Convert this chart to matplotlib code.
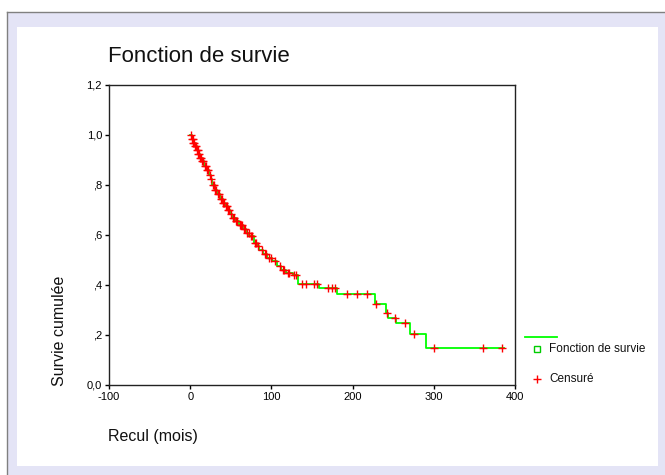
import matplotlib
matplotlib.use("Agg")
import matplotlib.pyplot as plt
from matplotlib.lines import Line2D
from matplotlib.patches import Rectangle
from matplotlib.ticker import FixedLocator, FixedFormatter
import numpy as np

plt.rcParams["font.family"] = ["Liberation Sans", "DejaVu Sans"]
plt.rcParams["axes.unicode_minus"] = False

# Kaplan-Meier steps (time in months, cumulative survival after the event)
step_times = [0, 2, 4, 6, 8, 10, 12, 14, 17, 20, 23, 25, 27, 30, 33, 37, 40, 43,
              46, 49, 52, 56, 60, 65, 69, 73, 78, 82, 85, 90, 95, 101, 107, 112,
              118, 126, 133, 159, 181, 228, 241, 244, 253, 271, 290]
step_surv = [1.0, 0.985, 0.97, 0.955, 0.94, 0.925, 0.91, 0.895, 0.875, 0.86, 0.84,
             0.825, 0.80, 0.78, 0.765, 0.745, 0.73, 0.715, 0.70, 0.685, 0.67, 0.655,
             0.64, 0.625, 0.61, 0.595, 0.57, 0.555, 0.54, 0.525, 0.51, 0.495, 0.475,
             0.46, 0.45, 0.44, 0.405, 0.39, 0.365, 0.325, 0.29, 0.27, 0.248, 0.203,
             0.15]
censor_times = [1, 2, 3, 4, 5, 6, 7, 8, 9, 10, 11, 12, 13, 15, 16, 18, 19, 21, 22,
                24, 26, 28, 29, 31, 32, 34, 35, 38, 39, 41, 42, 44, 45, 47, 48, 50,
                53, 54, 57, 58, 61, 62, 64, 66, 67, 70, 72, 75, 76, 80, 81, 84, 88,
                92, 93, 97, 99, 104, 110, 114, 116, 120, 122, 128, 130, 138, 142,
                152, 156, 170, 175, 178, 193, 205, 218, 229, 242, 252, 265, 276,
                300, 361, 384]

x_ticks = [-100, 0, 100, 200, 300, 400]
y_ticks = [0.0, 0.2, 0.4, 0.6, 0.8, 1.0, 1.2]
y_labels = ["0,0", ",2", ",4", ",6", ",8", "1,0", "1,2"]

W, H = 665, 475
fig = plt.figure(figsize=(W / 100, H / 100), dpi=100, facecolor="white")

# SPSS-like viewer frame
fig.add_artist(Rectangle((7 / W, 0), 1, 1 - 12 / H, transform=fig.transFigure,
                         facecolor="#E4E4F6", edgecolor="none", zorder=-3))
fig.add_artist(Line2D([7 / W, 7 / W], [0, 1 - 12 / H], transform=fig.transFigure,
                      color="#808080", lw=1, zorder=-2))
fig.add_artist(Line2D([7 / W, 1], [1 - 12 / H, 1 - 12 / H], transform=fig.transFigure,
                      color="#808080", lw=1, zorder=-2))
fig.add_artist(Rectangle((17 / W, 1 - 466 / H), (658 - 17) / W, (466 - 27) / H,
                         transform=fig.transFigure, facecolor="white",
                         edgecolor="none", zorder=-1))

ax = fig.add_axes([109 / W, 1 - 385 / H, (515 - 109) / W, (385 - 85) / H])
ax.set_facecolor("white")

t = np.array(step_times)
s = np.array(step_surv)
ax.step(np.append(t, censor_times[-1] + 2), np.append(s, s[-1]), where="post",
        color="#00FF00", lw=1.3, zorder=2)

ct = np.array(censor_times)
cy = s[np.searchsorted(t, ct, side="right") - 1]
ax.plot(ct, cy, linestyle="none", marker="+", color="#FF0000", ms=6, mew=1.0,
        zorder=3)

ax.set_xlim(-100, 400)
ax.set_ylim(0, 1.2)
ax.xaxis.set_major_locator(FixedLocator(x_ticks))
ax.yaxis.set_major_locator(FixedLocator(y_ticks))
ax.yaxis.set_major_formatter(FixedFormatter(y_labels))
ax.tick_params(direction="out", length=3, width=1, labelsize=8, pad=2,
               colors="black")
for sp in ax.spines.values():
    sp.set_linewidth(1.0)
    sp.set_color("#222222")

fig.text(108 / W, 1 - 57 / H, "Fonction de survie", fontsize=16, ha="left",
         va="center", color="#111111")
fig.text(108 / W, 1 - 437 / H, "Recul (mois)", fontsize=11.5, ha="left",
         va="center", color="#111111")
fig.text(60 / W, 1 - 331 / H, "Survie cumulée", fontsize=11.5, rotation=90,
         ha="center", va="center", color="#111111")

# legend drawn at its place beside the plot
fig.add_artist(Line2D([525 / W, 557 / W], [1 - 337 / H, 1 - 337 / H],
                      transform=fig.transFigure, color="#00FF00", lw=1.3))
fig.add_artist(Line2D([537 / W], [1 - 349 / H], transform=fig.transFigure,
                      marker="s", ms=4, mfc="none", mec="#00CC00", mew=1,
                      linestyle="none"))
fig.text(549 / W, 1 - 349 / H, "Fonction de survie", fontsize=8.5, ha="left",
         va="center", color="#111111")
fig.add_artist(Line2D([537 / W], [1 - 379 / H], transform=fig.transFigure,
                      marker="+", ms=6, mew=1.0, color="#FF0000",
                      linestyle="none"))
fig.text(549 / W, 1 - 379 / H, "Censuré", fontsize=8.5, ha="left",
         va="center", color="#111111")

fig.savefig("out.png", dpi=100, facecolor="white")
